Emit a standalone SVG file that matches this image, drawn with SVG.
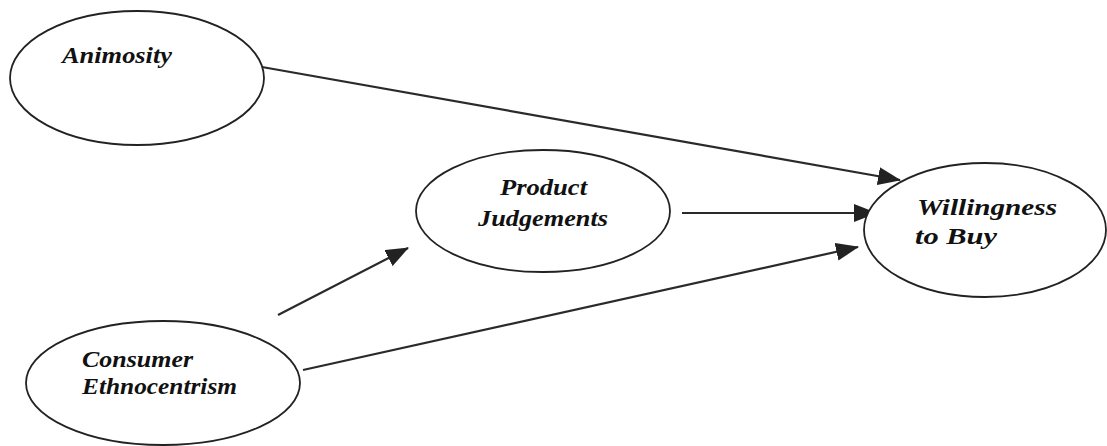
<svg xmlns="http://www.w3.org/2000/svg" width="1107" height="446" viewBox="0 0 1107 446">
<style>
.node ellipse{fill:#fff;stroke:#222;stroke-width:1.8}
.node text{font-family:"Liberation Serif","Times New Roman",serif;font-weight:bold;font-style:italic;font-size:23px;fill:#111}
.edge{stroke:#2a2a2a;stroke-width:2.2;fill:none;marker-end:url(#ah)}
</style>
<defs>
<marker id="ah" markerUnits="userSpaceOnUse" markerWidth="24" markerHeight="18" viewBox="0 0 24 18" refX="22" refY="9" orient="auto">
<path d="M0,0 L23,9 L0,18 z" fill="#222"/>
</marker>
</defs>
<rect width="1107" height="446" fill="#fff"/>
<g id="connectors">
<line class="edge" x1="262" y1="67" x2="900" y2="180"/>
<line class="edge" x1="682" y1="213" x2="876" y2="213"/>
<line class="edge" x1="303" y1="370" x2="858" y2="247"/>
<line class="edge" x1="278" y1="315" x2="408" y2="248"/>
</g>
<g id="animosity" class="node">
<ellipse cx="137" cy="78" rx="127" ry="67"/>
<text x="62" y="63" textLength="110" lengthAdjust="spacingAndGlyphs">Animosity</text>
</g>
<g id="product-judgements" class="node">
<ellipse cx="543" cy="211" rx="127" ry="61"/>
<text x="500" y="195" textLength="87" lengthAdjust="spacingAndGlyphs">Product</text>
<text x="478" y="226" textLength="130" lengthAdjust="spacingAndGlyphs">Judgements</text>
</g>
<g id="willingness-to-buy" class="node">
<ellipse cx="985" cy="230" rx="121" ry="67"/>
<text x="917" y="215" textLength="140" lengthAdjust="spacingAndGlyphs" style="font-size:24px">Willingness</text>
<text x="915" y="244" textLength="82" lengthAdjust="spacingAndGlyphs" style="font-size:24px">to Buy</text>
</g>
<g id="consumer-ethnocentrism" class="node">
<ellipse cx="163" cy="383" rx="137" ry="62"/>
<text x="82" y="367" textLength="111" lengthAdjust="spacingAndGlyphs">Consumer</text>
<text x="82" y="394" textLength="155" lengthAdjust="spacingAndGlyphs">Ethnocentrism</text>
</g>
</svg>
